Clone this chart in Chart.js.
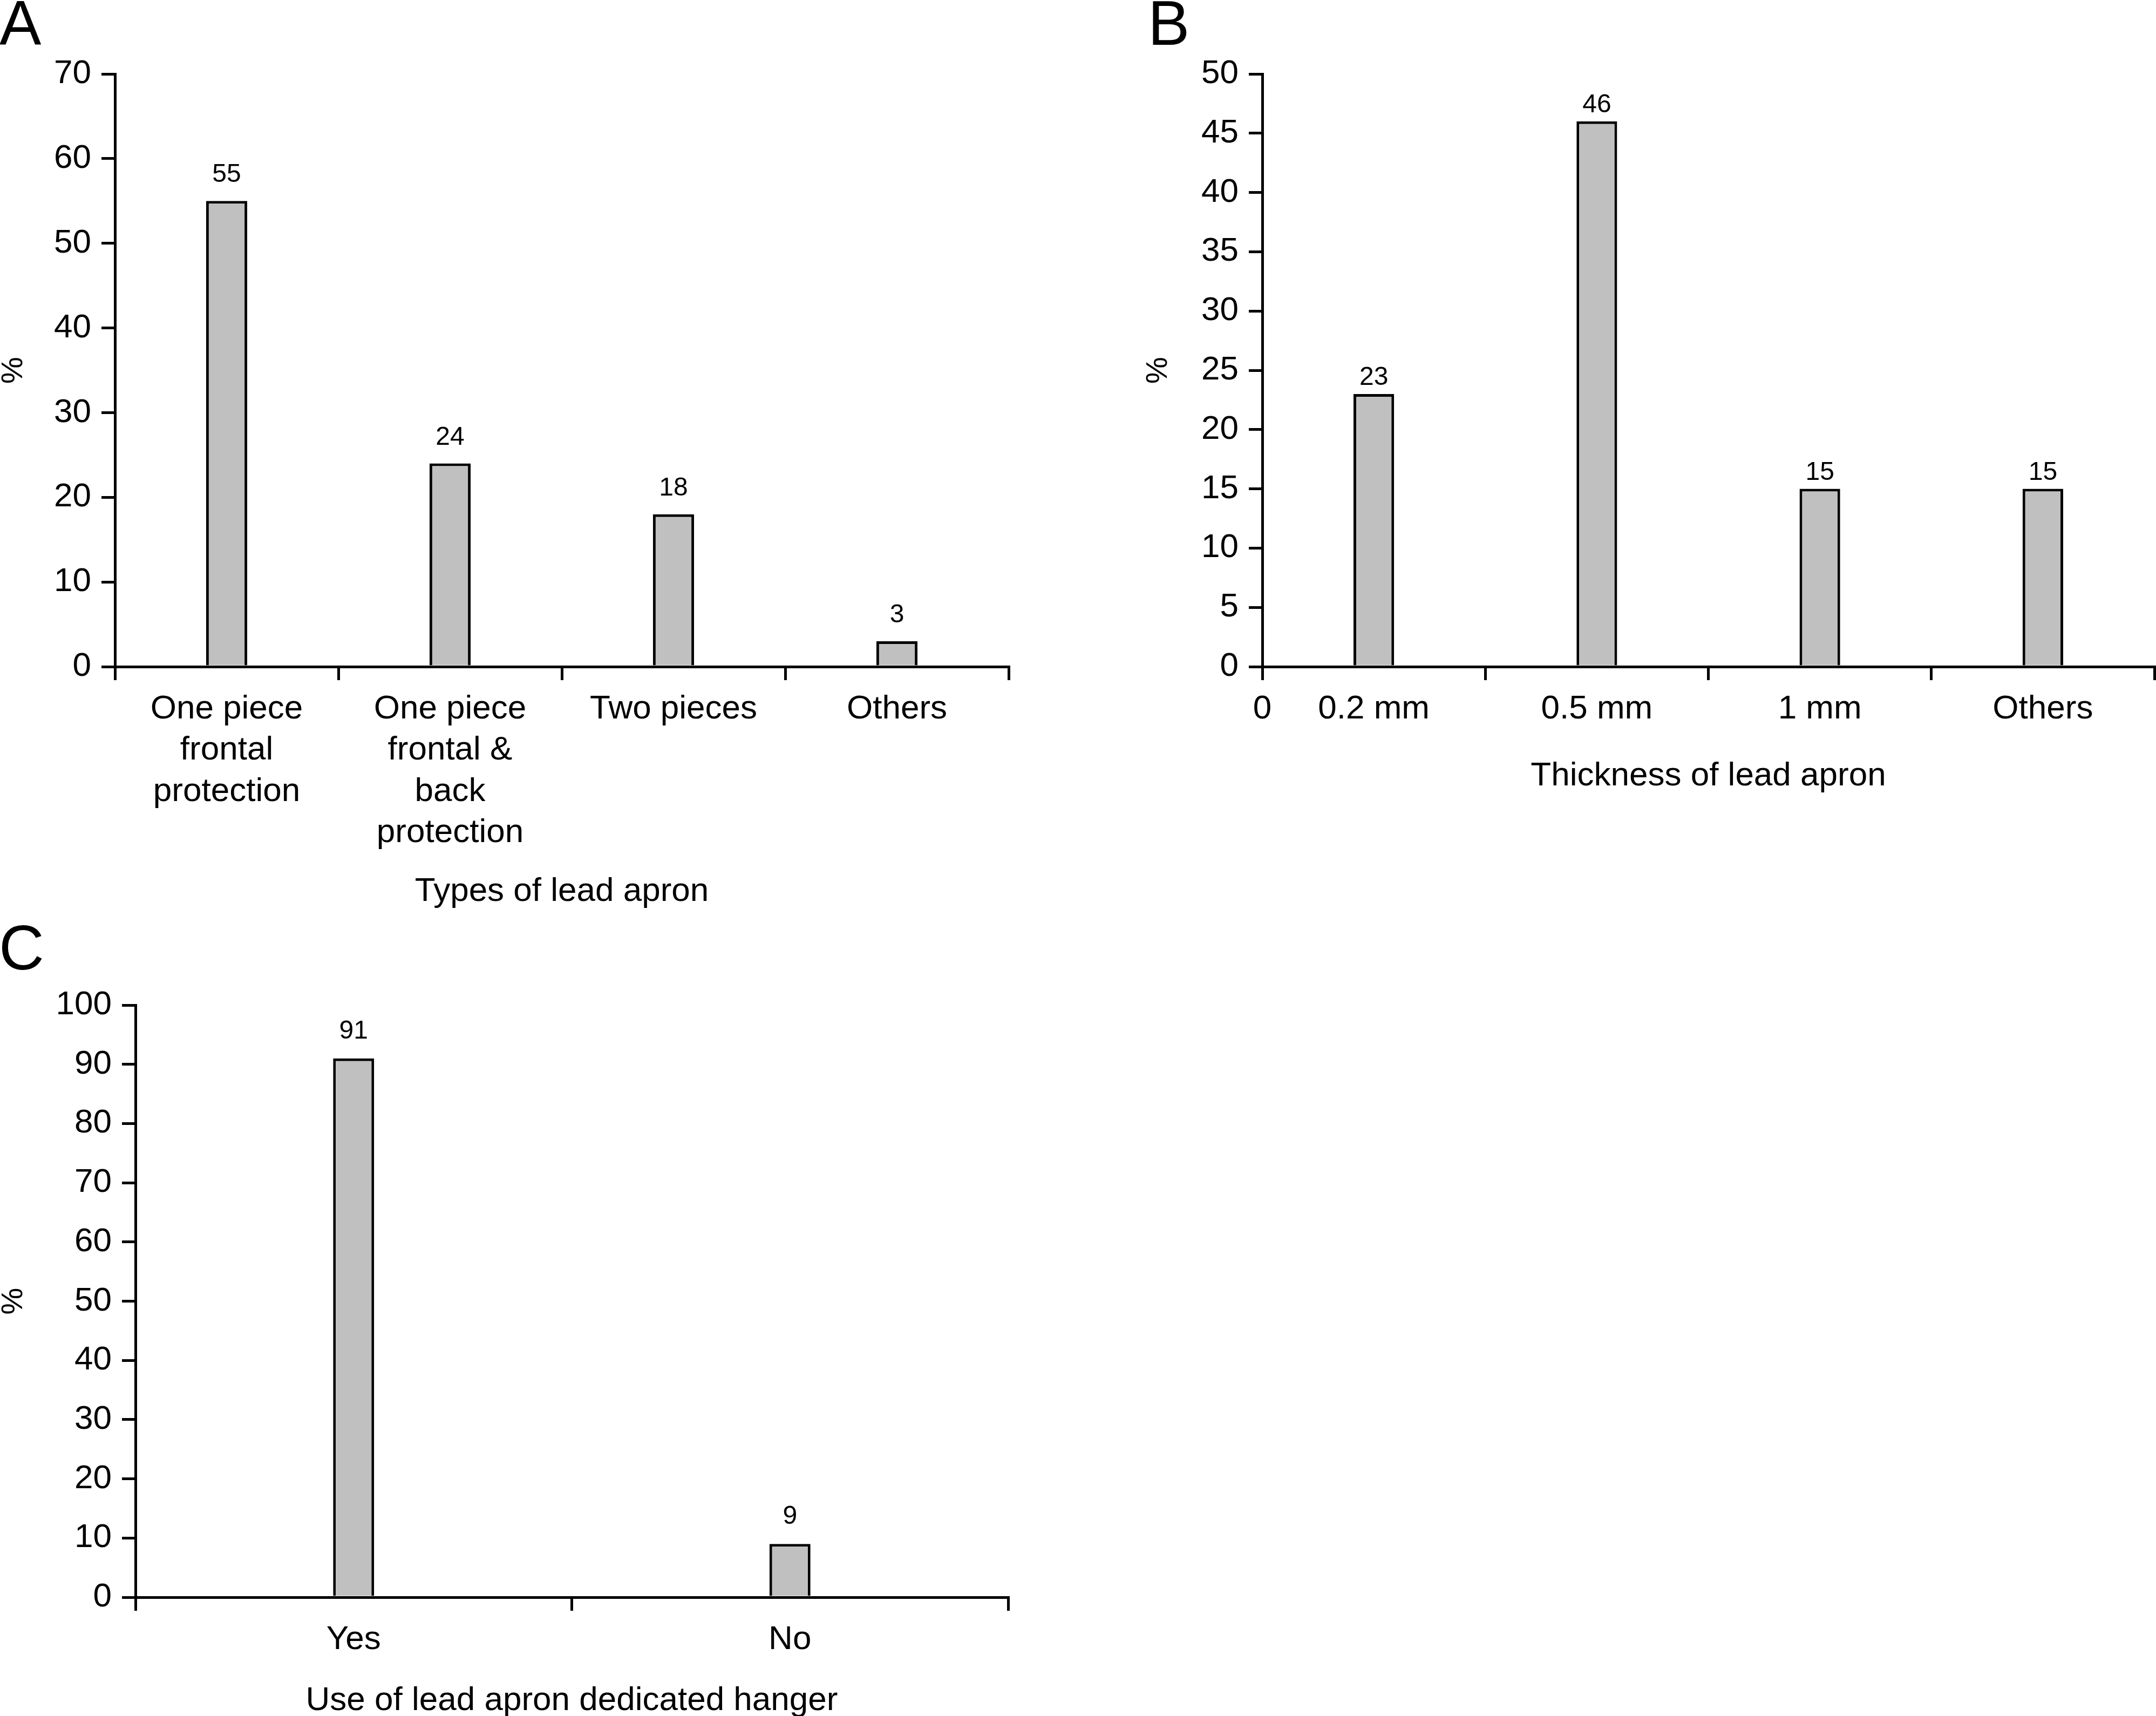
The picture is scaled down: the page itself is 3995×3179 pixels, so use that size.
<!DOCTYPE html>
<html lang="en">
<head>
    <meta charset="UTF-8">
    <title>Lead apron survey</title>
    <script src="https://cdn.jsdelivr.net/npm/chart.js"></script>
    <style>
        body {
            margin: 0;
            width: 3995px;
            height: 3179px;
            background: white;
            position: relative;
            overflow: hidden;
            font-family: 'Liberation Sans', Arial, sans-serif;
            color: #000;
        }
        canvas, .panel {
            position: absolute;
        }
        .panel {
            font-size: 116px;
            line-height: 116px;
        }
    </style>
</head>
<body>

    <div class="panel" style="left:-1px; top:-15px;">A</div>
    <div class="panel" style="left:2127px; top:-15px;">B</div>
    <div class="panel" style="left:-2px; top:1698px;">C</div>

    <canvas id="typeChart" width="2000" height="1700" style="left:0; top:0;"></canvas>
    <canvas id="thicknessChart" width="1995" height="1480" style="left:2000px; top:0;"></canvas>
    <canvas id="hangerChart" width="2000" height="1479" style="left:0; top:1700px;"></canvas>

    <script>
        // A - types of lead apron
        const typeLabels = [
            ['One piece', 'frontal', 'protection'],
            ['One piece', 'frontal &', 'back', 'protection'],
            'Two pieces',
            'Others'
        ];
        const typeValues = [55, 24, 18, 3];
        const typeMax = 70, typeStep = 10;

        // B - thickness of lead apron
        const thicknessLabels = ['0.2 mm', '0.5 mm', '1 mm', 'Others'];
        const thicknessValues = [23, 46, 15, 15];
        const thicknessMax = 50, thicknessStep = 5;

        // C - dedicated hanger
        const hangerLabels = ['Yes', 'No'];
        const hangerValues = [91, 9];
        const hangerMax = 100, hangerStep = 10;

        const FONT = "'Liberation Sans', Arial, sans-serif";
        Chart.defaults.font.family = FONT;
        Chart.defaults.color = '#000';

        const TICK_LEN = 25;
        const TICK_PAD = 16;

        // numbers above the bars
        const valueLabels = {
            id: 'valueLabels',
            afterDatasetsDraw(chart, args, opts) {
                const ctx = chart.ctx;
                const meta = chart.getDatasetMeta(0);
                const data = chart.data.datasets[0].data;
                ctx.save();
                ctx.font = '48px ' + FONT;
                ctx.fillStyle = '#000';
                ctx.textAlign = 'center';
                ctx.textBaseline = 'alphabetic';
                meta.data.forEach((bar, i) => {
                    ctx.fillText(String(data[i]), bar.x, bar.y - opts.gap);
                });
                ctx.restore();
            }
        };

        // the stray "0" under the origin of chart B
        const originZero = {
            id: 'originZero',
            afterDraw(chart, args, opts) {
                if (!opts.show) return;
                const xs = chart.scales.x;
                const ctx = chart.ctx;
                ctx.save();
                ctx.font = '62px ' + FONT;
                ctx.fillStyle = '#000';
                ctx.textAlign = 'center';
                ctx.textBaseline = 'middle';
                ctx.fillText('0', xs.left, xs.top + TICK_LEN + TICK_PAD + 62 * 1.23 / 2);
                ctx.restore();
            }
        };

        function renderChart(canvasId, cfg) {
            const ctx = document.getElementById(canvasId).getContext('2d');
            return new Chart(ctx, {
                type: 'bar',
                data: {
                    labels: cfg.labels,
                    datasets: [{
                        data: cfg.values,
                        backgroundColor: '#c0c0c0',
                        borderColor: '#000',
                        borderWidth: 5,
                        categoryPercentage: 1,
                        barPercentage: cfg.barPct
                    }]
                },
                plugins: [valueLabels, originZero],
                options: {
                    responsive: false,
                    animation: false,
                    devicePixelRatio: 1,
                    layout: { padding: cfg.padding },
                    plugins: {
                        legend: { display: false },
                        tooltip: { enabled: false },
                        valueLabels: { gap: cfg.gap },
                        originZero: { show: !!cfg.originZero }
                    },
                    scales: {
                        x: {
                            afterFit: s => { s.height = cfg.xHeight; },
                            border: { display: true, color: '#000', width: 5 },
                            grid: {
                                display: true,
                                offset: true,
                                drawOnChartArea: false,
                                drawTicks: true,
                                tickLength: TICK_LEN,
                                lineWidth: 5,
                                color: '#000'
                            },
                            ticks: {
                                padding: TICK_PAD,
                                maxRotation: 0,
                                autoSkip: false,
                                font: { size: 62, lineHeight: 1.23 }
                            },
                            title: {
                                display: true,
                                text: cfg.xTitle,
                                font: { size: 62, lineHeight: 1 },
                                padding: { top: 0, bottom: cfg.xTitlePad }
                            }
                        },
                        y: {
                            min: 0,
                            max: cfg.max,
                            afterFit: s => { s.width = cfg.yWidth; },
                            border: { display: true, color: '#000', width: 5 },
                            grid: {
                                display: true,
                                drawOnChartArea: false,
                                drawTicks: true,
                                tickLength: TICK_LEN,
                                lineWidth: 5,
                                color: '#000'
                            },
                            ticks: {
                                stepSize: cfg.step,
                                padding: 19,
                                font: { size: 62 }
                            },
                            title: {
                                display: true,
                                text: '%',
                                font: { size: 56, lineHeight: 0.8 },
                                padding: { top: cfg.yTitlePad, bottom: 0 }
                            }
                        }
                    }
                }
            });
        }

        renderChart('typeChart', {
            labels: typeLabels, values: typeValues, max: typeMax, step: typeStep,
            barPct: 0.184, gap: 35,
            padding: { top: 137, left: 0, right: 131, bottom: 0 },
            yWidth: 213, xHeight: 465, xTitle: 'Types of lead apron', xTitlePad: 17, yTitlePad: 3
        });

        renderChart('thicknessChart', {
            labels: thicknessLabels, values: thicknessValues, max: thicknessMax, step: thicknessStep,
            barPct: 0.182, gap: 17, originZero: true,
            padding: { top: 137, left: 0, right: 3, bottom: 0 },
            yWidth: 339, xHeight: 245, xTitle: 'Thickness of lead apron', xTitlePad: 11, yTitlePad: 124
        });

        renderChart('hangerChart', {
            labels: hangerLabels, values: hangerValues, max: hangerMax, step: hangerStep,
            barPct: 0.094, gap: 37,
            padding: { top: 162, left: 0, right: 132, bottom: 0 },
            yWidth: 251, xHeight: 220, xTitle: 'Use of lead apron dedicated hanger', xTitlePad: -3, yTitlePad: 3
        });
    </script>

</body>
</html>
